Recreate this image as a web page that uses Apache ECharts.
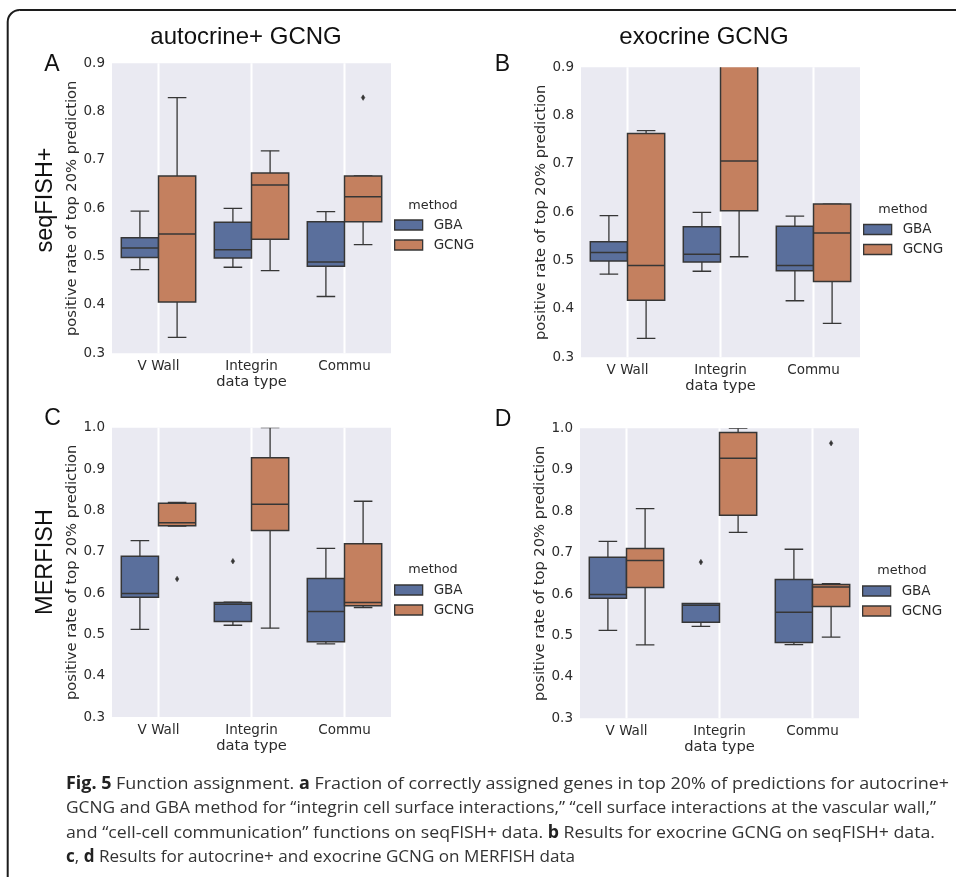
<!DOCTYPE html>
<html><head><meta charset="utf-8">
<script src="https://cdn.jsdelivr.net/npm/echarts@6/dist/echarts.min.js"></script>
<style>html,body{margin:0;padding:0;background:#fff}#c{width:956px;height:877px}</style>
</head><body><div id="c"></div>
<script>
// ---------- data ----------
const categories = ['V Wall', 'Integrin', 'Commu'];
const methods = ['GBA', 'GCNG'];
const yRangeTop = [0.3, 0.9];
const yRangeBottom = [0.3, 1.0];
// each row: [lower whisker, Q1, median, Q3, upper whisker], one row per category
const A_GBA  = [[0.473, 0.498, 0.518, 0.539, 0.594], [0.478, 0.497, 0.514, 0.571, 0.600], [0.4175, 0.480, 0.489, 0.572, 0.593]];
const A_GCNG = [[0.333, 0.406, 0.547, 0.667, 0.829], [0.471, 0.536, 0.648, 0.673, 0.719], [0.525, 0.572, 0.624, 0.667, 0.667]];
const A_OUT_GBA = [];
const A_OUT_GCNG = [[2, 0.829]];
const B_GBA  = [[0.472, 0.499, 0.517, 0.539, 0.593], [0.478, 0.497, 0.513, 0.570, 0.600], [0.417, 0.479, 0.490, 0.571, 0.592]];
const B_GCNG = [[0.339, 0.418, 0.490, 0.763, 0.769], [0.508, 0.603, 0.706, 0.930, 1.000], [0.370, 0.457, 0.557, 0.617, 0.617]];
const B_OUT_GBA = [];
const B_OUT_GCNG = [];
const C_GBA  = [[0.512, 0.590, 0.599, 0.689, 0.727], [0.522, 0.531, 0.573, 0.577, 0.578], [0.477, 0.482, 0.555, 0.635, 0.708]];
const C_GCNG = [[0.762, 0.763, 0.770, 0.817, 0.819], [0.515, 0.751, 0.815, 0.927, 1.000], [0.565, 0.569, 0.577, 0.719, 0.822]];
const C_OUT_GBA = [[1, 0.677]];
const C_OUT_GCNG = [[0, 0.634]];
const D_GBA  = [[0.512, 0.590, 0.599, 0.689, 0.727], [0.522, 0.532, 0.573, 0.577, 0.577], [0.478, 0.483, 0.556, 0.635, 0.708]];
const D_GCNG = [[0.477, 0.616, 0.681, 0.710, 0.806], [0.749, 0.790, 0.928, 0.990, 1.000], [0.496, 0.570, 0.617, 0.623, 0.625]];
const D_OUT_GBA = [[1, 0.677]];
const D_OUT_GCNG = [[2, 0.964]];

const colTitles = ['autocrine+ GCNG', 'exocrine GCNG'];
const rowTitles = ['seqFISH+', 'MERFISH'];
const panelLetters = ['A', 'B', 'C', 'D'];
const yAxisName = 'positive rate of top 20% prediction';
const xAxisName = 'data type';
const legendTitle = 'method';
const captionLines = [
  '{b|Fig. 5} Function assignment. {b|a} Fraction of correctly assigned genes in top 20% of predictions for autocrine+',
  'GCNG and GBA method for \u201Cintegrin cell surface interactions,\u201D \u201Ccell surface interactions at the vascular wall,\u201D',
  'and \u201Ccell-cell communication\u201D functions on seqFISH+ data. {b|b} Results for exocrine GCNG on seqFISH+ data.',
  '{b|c}, {b|d} Results for autocrine+ and exocrine GCNG on MERFISH data'
];

// ---------- styles / layout ----------
const BLUE = '#5a6f9c', ORANGE = '#c4805f', LINE = '#363636', TXT = '#2b2b2b', BG = '#eaeaf2';
const TICKFONT = 'DejaVu Sans';
const panels = [
  { gba: A_GBA, gcng: A_GCNG, outG: A_OUT_GBA, outC: A_OUT_GCNG, range: yRangeTop,
    grid: { left: 112, top: 63.3, width: 279, height: 290 }, legend: { left: 394, top: 217 }, lt: [433, 206] },
  { gba: B_GBA, gcng: B_GCNG, outG: B_OUT_GBA, outC: B_OUT_GCNG, range: yRangeTop,
    grid: { left: 581, top: 67.3, width: 279, height: 290 }, legend: { left: 863, top: 221.5 }, lt: [903, 210] },
  { gba: C_GBA, gcng: C_GCNG, outG: C_OUT_GBA, outC: C_OUT_GCNG, range: yRangeBottom,
    grid: { left: 112, top: 427.7, width: 279, height: 289.3 }, legend: { left: 394, top: 582 }, lt: [433, 570] },
  { gba: D_GBA, gcng: D_GCNG, outG: D_OUT_GBA, outC: D_OUT_GCNG, range: yRangeBottom,
    grid: { left: 580, top: 428.3, width: 279, height: 290 }, legend: { left: 862, top: 583 }, lt: [902, 571] }
];

function boxRenderer(side, fill) {
  return function (params, api) {
    const cat = api.value(0);
    const vals = [1, 2, 3, 4, 5].map(i => api.coord([cat, api.value(i)])[1]);
    const cx = api.coord([cat, api.value(1)])[0];
    const band = api.size([1, 0])[0];
    const w = band * 0.4;
    const x0 = side < 0 ? cx - w : cx;
    const xm = x0 + w / 2;
    const cap = w / 4;
    const ls = { stroke: LINE, lineWidth: 1.3 };
    const [yLo, yQ1, yMed, yQ3, yHi] = vals;
    return {
      type: 'group',
      children: [
        { type: 'line', shape: { x1: xm, y1: yQ3, x2: xm, y2: yHi }, style: ls },
        { type: 'line', shape: { x1: xm, y1: yQ1, x2: xm, y2: yLo }, style: ls },
        { type: 'line', shape: { x1: xm - cap, y1: yHi, x2: xm + cap, y2: yHi }, style: ls },
        { type: 'line', shape: { x1: xm - cap, y1: yLo, x2: xm + cap, y2: yLo }, style: ls },
        { type: 'rect', shape: { x: x0, y: yQ3, width: w, height: yQ1 - yQ3 }, style: { fill: fill, stroke: LINE, lineWidth: 1.5 } },
        { type: 'line', shape: { x1: x0, y1: yMed, x2: x0 + w, y2: yMed }, style: { stroke: LINE, lineWidth: 1.5 } }
      ]
    };
  };
}
function outlierRenderer(side) {
  return function (params, api) {
    const cat = api.value(0);
    const p = api.coord([cat, api.value(1)]);
    const band = api.size([1, 0])[0];
    const w = band * 0.4;
    const xm = side < 0 ? p[0] - w / 2 : p[0] + w / 2;
    const y = p[1];
    return {
      type: 'polygon',
      shape: { points: [[xm, y - 2.8], [xm + 1.8, y], [xm, y + 2.8], [xm - 1.8, y]] },
      style: { fill: LINE, stroke: LINE, lineWidth: 0.5 }
    };
  };
}
function gridLineRenderer(params, api) {
  const cs = params.coordSys;
  const x = api.coord([api.value(0), api.value(1)])[0];
  return { type: 'line', shape: { x1: x, y1: cs.y, x2: x, y2: cs.y + cs.height }, style: { stroke: '#ffffff', lineWidth: 2 } };
}

const grids = [], xAxes = [], yAxes = [], series = [], legends = [];
panels.forEach((p, i) => {
  grids.push(Object.assign({ show: true, backgroundColor: BG, borderWidth: 0, containLabel: false }, p.grid));
  xAxes.push({
    type: 'category', gridIndex: i, data: categories, boundaryGap: true,
    axisLine: { show: false }, axisTick: { show: false }, splitLine: { show: false },
    axisLabel: { margin: 6.5, fontSize: 13.5, color: TXT, fontFamily: TICKFONT },
    name: xAxisName, nameLocation: 'middle', nameGap: 21.5,
    nameTextStyle: { fontSize: 14.7, color: TXT, fontFamily: TICKFONT }
  });
  yAxes.push({
    type: 'value', gridIndex: i, min: p.range[0], max: p.range[1], interval: 0.1,
    axisLine: { show: false }, axisTick: { show: false }, splitLine: { show: false },
    axisLabel: { margin: 7, fontSize: 13.5, color: TXT, fontFamily: TICKFONT, formatter: v => v.toFixed(1) },
    name: yAxisName, nameLocation: 'middle', nameGap: 30, nameRotate: 90,
    nameTextStyle: { fontSize: 14.7, color: TXT, fontFamily: TICKFONT }
  });
  series.push({
    type: 'custom', xAxisIndex: i, yAxisIndex: i, silent: true, z: 1,
    data: categories.map((c, k) => [k, p.range[0]]), encode: { x: 0, y: 1 },
    renderItem: gridLineRenderer
  });
  [[p.gba, p.outG, -1, BLUE, methods[0]], [p.gcng, p.outC, 1, ORANGE, methods[1]]].forEach(([stats, outs, side, col, name]) => {
    series.push({
      type: 'custom', name: name, xAxisIndex: i, yAxisIndex: i, z: 2, clip: true, silent: true,
      itemStyle: { color: col },
      data: stats.map((s, k) => [k].concat(s)), encode: { x: 0, y: [1, 2, 3, 4, 5] },
      renderItem: boxRenderer(side, col)
    });
    series.push({
      type: 'custom', name: name, xAxisIndex: i, yAxisIndex: i, z: 3, clip: true, silent: true,
      itemStyle: { color: col },
      data: outs, encode: { x: 0, y: 1 },
      renderItem: outlierRenderer(side)
    });
  });
  legends.push({
    left: p.legend.left, top: p.legend.top, orient: 'vertical', padding: 0,
    itemWidth: 28, itemHeight: 10, itemGap: 4, icon: 'rect', selectedMode: false,
    textStyle: { fontSize: 13.5, color: TXT, fontFamily: TICKFONT, lineHeight: 16, padding: [0, 0, 0, 6] },
    data: [
      { name: methods[0], itemStyle: { color: BLUE, borderColor: LINE, borderWidth: 1.3 } },
      { name: methods[1], itemStyle: { color: ORANGE, borderColor: LINE, borderWidth: 1.3 } }
    ]
  });
});

// caption: condensed to match the reference line widths
const capFont = 'Open Sans';
const capSize = 17;
const capWidths = [883, 870, 869, 509];
function measureRich(line) {
  const ctx = document.createElement('canvas').getContext('2d');
  let total = 0;
  line.split(/(\{b\|[^}]*\})/).forEach(seg => {
    if (!seg) return;
    const m = seg.match(/^\{b\|([^}]*)\}$/);
    ctx.font = (m ? 'bold ' : '') + capSize + 'px "' + capFont + '"';
    total += ctx.measureText(m ? m[1] : seg).width;
  });
  return total;
}

const graphics = [
  { type: 'rect', silent: true, shape: { x: 7.7, y: 10, width: 1000, height: 1000, r: 12 }, style: { fill: 'none', stroke: '#1c1c1c', lineWidth: 2 } },
  { type: 'text', x: 246, y: 37, style: { text: colTitles[0], font: '24px "Liberation Sans"', fill: '#111', textAlign: 'center', textVerticalAlign: 'middle' } },
  { type: 'text', x: 704, y: 37, style: { text: colTitles[1], font: '24px "Liberation Sans"', fill: '#111', textAlign: 'center', textVerticalAlign: 'middle' } },
  { type: 'text', x: 45.5, y: 200, rotation: Math.PI / 2, style: { text: rowTitles[0], font: '23.5px "Liberation Sans"', fill: '#111', textAlign: 'center', textVerticalAlign: 'middle' } },
  { type: 'text', x: 45.5, y: 562, rotation: Math.PI / 2, style: { text: rowTitles[1], font: '23.5px "Liberation Sans"', fill: '#111', textAlign: 'center', textVerticalAlign: 'middle' } },
  { type: 'text', x: 52, y: 65, style: { text: panelLetters[0], font: '23px "Liberation Sans"', fill: '#111', textAlign: 'center', textVerticalAlign: 'middle' } },
  { type: 'text', x: 502.5, y: 65, style: { text: panelLetters[1], font: '23px "Liberation Sans"', fill: '#111', textAlign: 'center', textVerticalAlign: 'middle' } },
  { type: 'text', x: 52.5, y: 419, style: { text: panelLetters[2], font: '23px "Liberation Sans"', fill: '#111', textAlign: 'center', textVerticalAlign: 'middle' } },
  { type: 'text', x: 503, y: 419.5, style: { text: panelLetters[3], font: '23px "Liberation Sans"', fill: '#111', textAlign: 'center', textVerticalAlign: 'middle' } }
];
panels.forEach(p => {
  graphics.push({ type: 'text', x: p.lt[0], y: p.lt[1], style: { text: legendTitle, font: '12.8px "DejaVu Sans"', fill: TXT, textAlign: 'center', textVerticalAlign: 'middle' } });
});
const capY = [784, 808.5, 833, 857.5];
captionLines.forEach((line, k) => {
  graphics.push({
    type: 'text', x: 66, y: capY[k], scaleX: capWidths[k] / measureRich(line), scaleY: 1,
    style: {
      text: line, font: capSize + 'px "' + capFont + '"', fill: '#333', textAlign: 'left', textVerticalAlign: 'middle',
      rich: { b: { fontWeight: 'bold', fontSize: capSize, fontFamily: capFont, fill: '#222' } }
    }
  });
});

const chart = echarts.init(document.getElementById('c'), null, { renderer: 'canvas' });
chart.setOption({
  animation: false,
  backgroundColor: '#ffffff',
  grid: grids, xAxis: xAxes, yAxis: yAxes, series: series, legend: legends,
  graphic: { elements: graphics }
});
</script>
</body></html>
